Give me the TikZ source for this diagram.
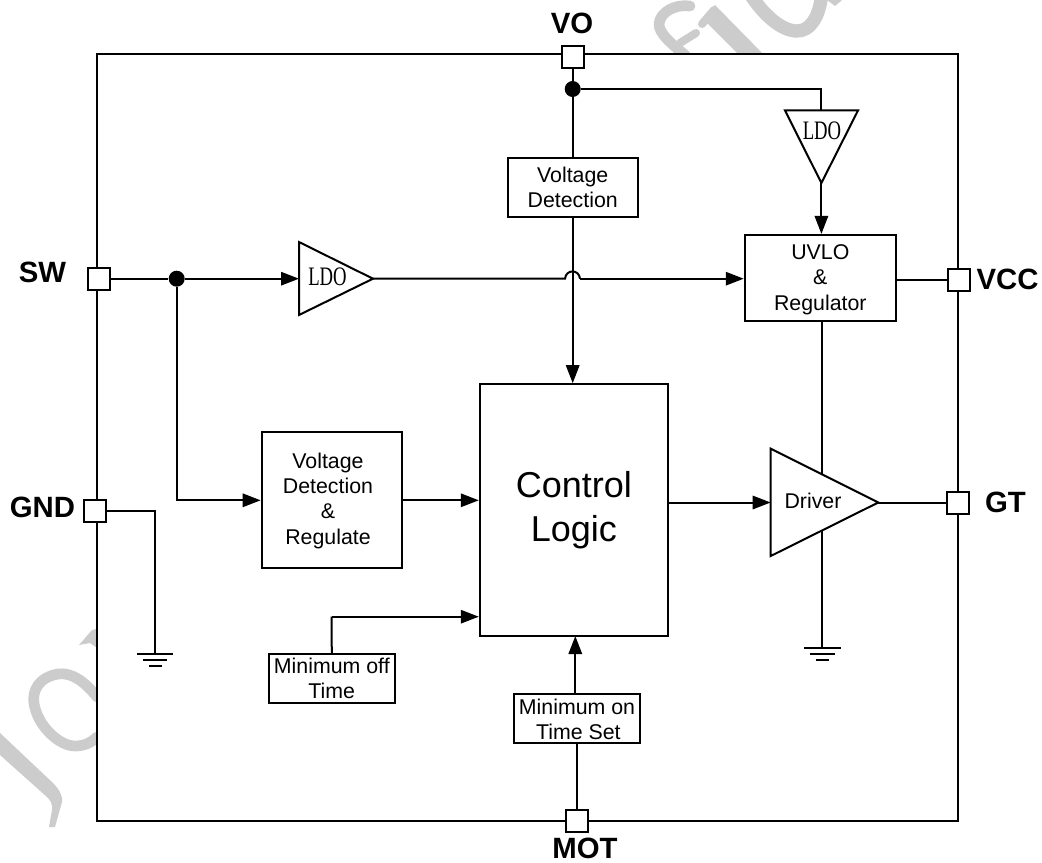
\documentclass[tikz,border=0pt]{standalone}
\usepackage{fontspec}
\setmainfont{Liberation Sans}
\newfontfamily\ldofont[FakeStretch=0.7]{Liberation Serif}
\usetikzlibrary{arrows.meta}
\definecolor{wmark}{gray}{0.8}
\tikzset{
  x=0.75pt,y=-0.75pt,
  lw/.style={line width=1.5pt},
  conn/.style={lw,draw=black},
  arr/.style={conn,-{Triangle[length=13.5pt,width=10pt]}},
  blockbox/.style={draw=black,lw,fill=white,align=center,inner sep=0pt,
    font=\fontsize{16}{18.75}\selectfont},
  blocktext/.style={align=center,inner sep=0pt,font=\fontsize{16}{19}\selectfont},
  pinbox/.style={draw=black,lw,fill=white,inner sep=0pt,minimum width=16.5pt,minimum height=16.5pt},
  dotnode/.style={circle,fill=black,inner sep=0pt,minimum size=12pt},
  pinlabel/.style={font=\fontsize{22}{24}\selectfont\bfseries,inner sep=0pt},
  ampbody/.style={draw=black,lw,fill=white,line join=miter},
  ldotext/.style={font=\fontsize{20}{22}\selectfont\ldofont,inner sep=0pt},
  drivertext/.style={font=\fontsize{16}{18.75}\selectfont,inner sep=0pt},
  gndline/.style={conn},
  wfill/.style={fill=wmark,draw=none},
  wstroke/.style={draw=wmark,line cap=round,line join=round},
}
\begin{document}
\begin{tikzpicture}
\useasboundingbox (0,0) rectangle (1042,863);
\fill[white] (0,0) rectangle (1042,863);
% watermark
\begin{scope}
\clip (0,0) rectangle (1042,863);
\fill[wfill] (0,733) -- (53,783) .. controls (60,790) and (63,797) .. (62,802) -- (55,827) -- (49,827) -- (52,810) .. controls (53,804) and (50,800) .. (47,797) -- (0,755) -- cycle;
\draw[wstroke,line width=8pt] (97,697) .. controls (85,682) and (72,672) .. (58,674) .. controls (40,677) and (30,690) .. (35,708) .. controls (40,728) and (60,746) .. (75,746) .. controls (85,746) and (92,742) .. (97,737);
\fill[wfill] (79,645) -- (92,630) -- (100,628) -- (100,650) -- (90,643) -- cycle;
\draw[wstroke,line width=8pt] (690,6) .. controls (675,4) and (660,12) .. (659,24) .. controls (659,34) and (672,44) .. (686,56);
\draw[wstroke,line width=6pt] (680,43) -- (696,33);
\draw[wstroke,line width=6pt] (702,24) -- (714,10);
\fill[wfill] (715,5) -- (763,54) -- (738,54) -- (703,19) -- cycle;
\draw[wstroke,line width=10pt] (752,-3) .. controls (765,16) and (782,31) .. (797,31) .. controls (810,31) and (818,18) .. (821,0);
\fill[wfill] (827,0) -- (842,0) -- (835,6) -- cycle;
\end{scope}

% frame
\node[draw=black,lw,fill=white,inner sep=0pt,minimum width=645.4pt,minimum height=575.3pt] (frame) at (527.75,437.5) {};

% blocks
\node[blockbox,minimum width=97.5pt,minimum height=44.3pt] (vd) at (572.7,187.2) {Voltage\\ Detection};
\node[blockbox,minimum width=113.3pt,minimum height=64.9pt] (uvlo) at (820.3,278.2) {};
\node[blocktext] (tuvlo) at (820.3,279.5) {UVLO\\ \&\\ Regulator};
\node[blockbox,minimum width=105.2pt,minimum height=102pt] (vdr) at (331.8,500.3) {};
\node[blocktext] (tvdr) at (328,500.5) {Voltage\\ Detection\\ \&\\ Regulate};
\node[blockbox,minimum width=141pt,minimum height=189pt,font=\fontsize{27}{33}\selectfont] (ctrl) at (573.8,510.2) {Control\\ Logic};
\node[blockbox,minimum width=94.7pt,minimum height=36.3pt] (moff) at (331.8,678.5) {Minimum off\\ Time};
\node[blockbox,minimum width=94.5pt,minimum height=36.3pt] (mon) at (577,718.5) {};
\node[blockbox,draw=none,fill=none] (tmon) at (577,719) {Minimum on\\ \hspace*{2pt}Time Set};

% pins
\node[pinbox] (pvo) at (572.7,57) {};
\node[pinbox] (psw) at (98.5,278.7) {};
\node[pinbox] (pgnd) at (95,511) {};
\node[pinbox] (pvcc) at (959,279.5) {};
\node[pinbox] (pgt) at (958.3,502.5) {};
\node[pinbox] (pmot) at (577,821) {};
\node[pinlabel] (lvo) at (572,23) {VO};
\node[pinlabel] (lsw) at (42.5,272) {SW};
\node[pinlabel] (lgnd) at (42.5,507) {GND};
\node[pinlabel] (lvcc) at (1007.5,279.5) {VCC};
\node[pinlabel] (lgt) at (1005.5,502) {GT};
\node[pinlabel] (lmot) at (585,848) {MOT};

% junctions
\node[dotnode] (j1) at (572.7,89) {};
\node[dotnode] (j2) at (176.7,278.7) {};

% named points
\coordinate (ldoAin) at (299,278.7);
\coordinate (ldoAout) at (373,278.7);
\coordinate (ldoBin) at (821.4,110.5);
\coordinate (ldoBout) at (821.4,183);
\coordinate (drvIn) at (770.7,502.5);
\coordinate (drvOut) at (878.3,502.5);
\coordinate (hopL) at (565,278.7);
\coordinate (hopR) at (580,278.7);
\coordinate (gndA) at (155,654);
\coordinate (gndB) at (822.3,648);
\coordinate (moffCorner) at (331.5,616.7);
\coordinate (monTop) at (575.3,694.3);
\coordinate (ctrlBot) at (575.3,636);

% connectors
\draw[conn] (pvo) -- (j1) -- (vd.north);
\draw[conn] (j1) -| (ldoBin);
\draw[arr] (ldoBout) -- (ldoBout |- uvlo.north);
\draw[arr] (vd.south) -- (vd.south |- ctrl.north);
\draw[conn] (psw) -- (j2);
\draw[arr] (j2) -- (ldoAin);
\draw[arr] (j2) |- (vdr.west);
\draw[conn] (ldoAout) -- (hopL) .. controls (566,269) and (579,269) .. (hopR);
\draw[arr] (hopR) -- (hopR -| uvlo.west);
\draw[conn] (uvlo.east |- pvcc) -- (pvcc);
\draw[arr] (vdr.east) -- (vdr.east -| ctrl.west);
\draw[conn] (moff.north) -- (moffCorner);
\draw[arr] (moffCorner) -- (moffCorner -| ctrl.west);
\draw[arr] (monTop) -- (ctrlBot);
\draw[conn] (pmot) -- (mon.south);
\draw[conn] (pgnd) -| (gndA);
\draw[conn] (gndB |- uvlo.south) -- (gndB);
\draw[arr] (ctrl.east |- drvIn) -- (drvIn);
\draw[conn] (drvOut) -- (pgt);

% ground symbols
\draw[gndline] (137,654) -- (173,654) (142.7,659.7) -- (167.3,659.7) (149,665.7) -- (161.7,665.7);
\draw[gndline] (804.3,648) -- (840.7,648) (809.7,654) -- (835,654) (815.7,659.7) -- (829,659.7);

% amplifiers
\draw[ampbody] (299,242) -- (373,278.7) -- (299,315) -- cycle;
\node[ldotext] (tldoA) at (327.5,277) {LDO};
\draw[ampbody] (785,110.5) -- (858,110.5) -- (821.4,183) -- cycle;
\node[ldotext] (tldoB) at (822,131) {LDO};
\draw[ampbody] (770.7,448.7) -- (878.3,502.5) -- (770.7,556) -- cycle;
\node[drivertext] (tdrv) at (813,500.5) {Driver};
\end{tikzpicture}
\end{document}
